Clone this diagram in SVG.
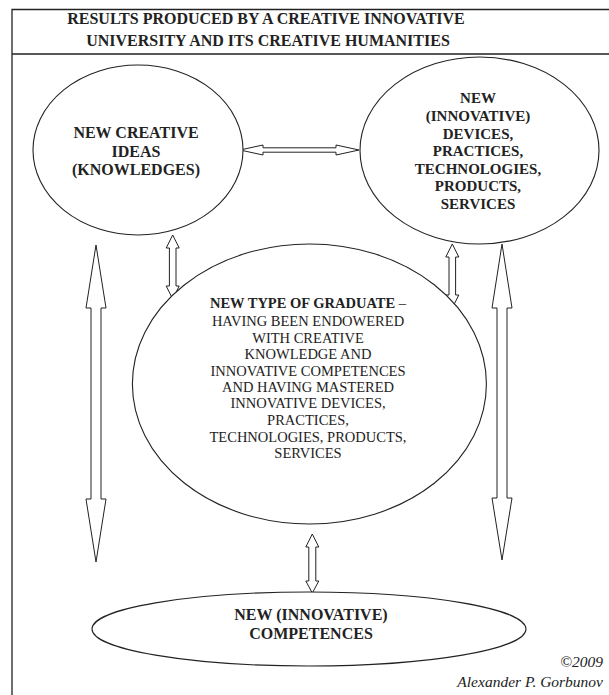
<svg xmlns="http://www.w3.org/2000/svg" width="609" height="695" viewBox="0 0 609 695">
<style>
.frame{fill:none;stroke:#222;stroke-width:1.3}
.node ellipse{fill:#fff;stroke:#222;stroke-width:1.1}
.conn polygon{fill:#fff;stroke:#222;stroke-width:1}
text{font-family:"Liberation Serif","Times New Roman",serif;fill:#222;text-anchor:middle}
.b{font-weight:bold}
.t{font-size:16px;font-weight:bold}
.n16{font-size:16px;font-weight:bold}
.n15{font-size:15px;font-weight:bold}
.c{font-size:14.5px}
.copy{font-size:15.5px;font-style:italic;text-anchor:end}
</style>
<rect width="609" height="695" fill="#fff"/>
<g id="frame">
<path class="frame" d="M12,695 V9.5 H609 M12,54 H609"/>
<text class="t" x="266" y="24">RESULTS PRODUCED BY A CREATIVE INNOVATIVE</text>
<text class="t" x="268" y="46">UNIVERSITY AND ITS CREATIVE HUMANITIES</text>
</g>
<g class="conn" id="connectors">
<polygon points="240,150 263,145 263,147.8 336,147.8 336,145 359,150 336,155 336,152.2 263,152.2 263,155"/>
<polygon points="172.7,235 179.2,248 176,248 176,286 179.2,286 172.7,299 166.2,286 169.4,286 169.4,248 166.2,248"/>
<polygon points="452.3,244 458.8,257 455.6,257 455.6,295 458.8,295 452.3,308 445.8,295 449,295 449,257 445.8,257"/>
<polygon points="96,245 106,308 101,308 101,499 106,499 96,562 86,499 91,499 91,308 86,308"/>
<polygon points="502,244 512,308 507,308 507,498 512,498 502,560 492,498 497,498 497,308 492,308"/>
<polygon points="312.3,534 318.8,547 315.8,547 315.8,581 318.8,581 312.3,593 305.8,581 308.8,581 308.8,547 305.8,547"/>
</g>
<g class="node" id="ideas">
<ellipse cx="138" cy="150" rx="105" ry="85"/>
<text class="n16" x="136" y="138">NEW CREATIVE</text>
<text class="n16" x="136" y="157">IDEAS</text>
<text class="n16" x="136" y="175">(KNOWLEDGES)</text>
</g>
<g class="node" id="devices">
<ellipse cx="479.5" cy="150.5" rx="119.5" ry="93.5"/>
<text class="n15" x="478" y="103">NEW</text>
<text class="n15" x="478" y="121">(INNOVATIVE)</text>
<text class="n15" x="478" y="138.5">DEVICES,</text>
<text class="n15" x="478" y="156">PRACTICES,</text>
<text class="n15" x="478" y="173.5">TECHNOLOGIES,</text>
<text class="n15" x="478" y="191">PRODUCTS,</text>
<text class="n15" x="478" y="208.5">SERVICES</text>
</g>
<g class="node" id="graduate">
<ellipse cx="309.4" cy="384" rx="177" ry="140"/>
<text class="c" x="308" y="308"><tspan class="b">NEW TYPE OF GRADUATE</tspan> –</text>
<text class="c" x="308" y="325.5">HAVING BEEN ENDOWERED</text>
<text class="c" x="308" y="342.5">WITH CREATIVE</text>
<text class="c" x="308" y="359">KNOWLEDGE AND</text>
<text class="c" x="308" y="375.5">INNOVATIVE COMPETENCES</text>
<text class="c" x="308" y="392">AND HAVING MASTERED</text>
<text class="c" x="308" y="408">INNOVATIVE DEVICES,</text>
<text class="c" x="308" y="424.5">PRACTICES,</text>
<text class="c" x="308" y="441.5">TECHNOLOGIES, PRODUCTS,</text>
<text class="c" x="308" y="458">SERVICES</text>
</g>
<g class="node" id="competences">
<ellipse cx="309" cy="629" rx="217" ry="37"/>
<text class="n16" x="311" y="620">NEW (INNOVATIVE)</text>
<text class="n16" x="311" y="638.5">COMPETENCES</text>
</g>
<g id="copyright">
<text class="copy" x="603" y="667">©2009</text>
<text class="copy" x="603" y="687">Alexander P. Gorbunov</text>
</g>
</svg>
